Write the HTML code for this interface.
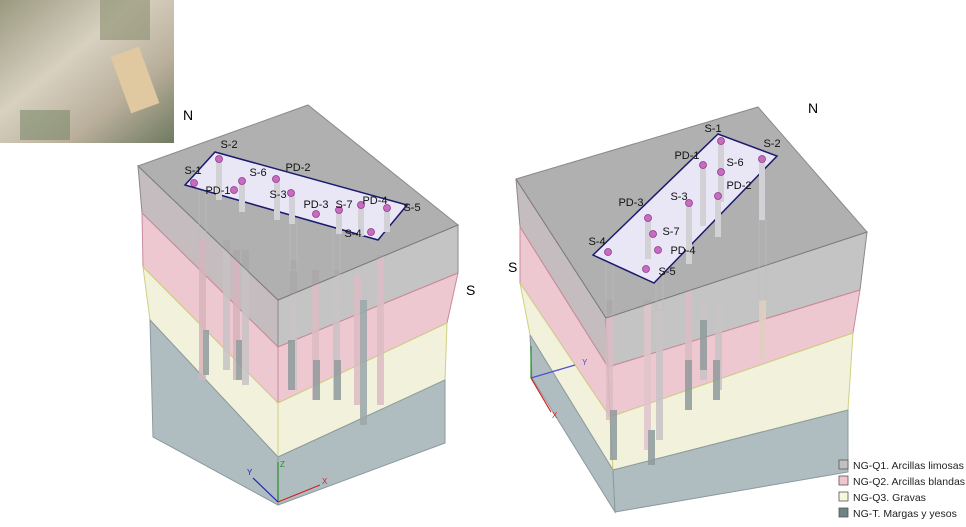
<!DOCTYPE html>
<html><head><meta charset="utf-8"><style>
html,body{margin:0;padding:0;background:#fff;}
svg{display:block;font-family:"Liberation Sans","DejaVu Sans",sans-serif;}
</style></head><body>
<svg width="966" height="527" viewBox="0 0 966 527" xmlns="http://www.w3.org/2000/svg">
<defs>
<linearGradient id="sat" x1="0" y1="0" x2="1" y2="1">
<stop offset="0" stop-color="#9a9a80"/><stop offset="0.4" stop-color="#d8d0c0"/><stop offset="0.7" stop-color="#b8ae9a"/><stop offset="1" stop-color="#6f7a60"/></linearGradient>
</defs>
<rect x="0" y="0" width="174" height="143" fill="url(#sat)"/>
<rect x="120" y="50" width="30" height="60" fill="#e0c9a0" transform="rotate(-20 135 80)"/>
<rect x="20" y="110" width="50" height="30" fill="#7c8a6a" opacity="0.6"/>
<rect x="100" y="0" width="50" height="40" fill="#8a9070" opacity="0.6"/>
<text x="183" y="120" font-size="14">N</text>
<text x="466" y="295" font-size="14">S</text>
<text x="808" y="113" font-size="14">N</text>
<text x="508" y="272" font-size="14">S</text>

<!-- LEFT BLOCK -->
<g stroke-width="1">
<polygon points="138,166 278,300 278,347 142,213" fill="#c4bcbf" stroke="#8a8a8a"/>
<polygon points="142,213 278,347 278,403 143,267" fill="#eec8d1" stroke="#c98a9a"/>
<polygon points="143,267 278,403 278,457 150,320" fill="#f1f1dc" stroke="#d0d080"/>
<polygon points="150,320 278,457 278,505 153,437" fill="#afbdc1" stroke="#8a9a9e"/>
<polygon points="278,300 458,225 458,273 278,347" fill="#c4c4c4" stroke="#8a8a8a"/>
<polygon points="278,347 458,273 447,323 278,403" fill="#eec8d1" stroke="#c98a9a"/>
<polygon points="278,403 447,323 445,380 278,457" fill="#f1f1dc" stroke="#d0d080"/>
<polygon points="278,457 445,380 445,443 278,505" fill="#afbdc1" stroke="#8a9a9e"/>
</g>
<g fill="#c9c3c6" opacity="0.85">
<rect x="199" y="240" width="7" height="140" fill="#d7b3bd"/>
<rect x="223" y="240" width="7" height="130"/>
<rect x="233" y="250" width="7" height="130" fill="#d7b3bd"/>
<rect x="242" y="250" width="7" height="135"/>
<rect x="290" y="260" width="7" height="130"/>
<rect x="312" y="270" width="7" height="130" fill="#dcbcc4"/>
<rect x="333" y="270" width="7" height="130"/>
<rect x="354" y="275" width="7" height="130" fill="#dcbcc4"/>
<rect x="360" y="300" width="7" height="125" fill="#9aa8aa"/>
<rect x="377" y="255" width="7" height="150" fill="#dcbcc4"/>
<rect x="203" y="330" width="6" height="45" fill="#8f9b9c"/>
<rect x="236" y="340" width="6" height="40" fill="#8f9b9c"/>
<rect x="288" y="340" width="7" height="50" fill="#8f9b9c"/>
<rect x="313" y="360" width="7" height="40" fill="#8f9b9c"/>
<rect x="334" y="360" width="7" height="40" fill="#8f9b9c"/>
</g>
<polygon points="138,166 308,105 458,225 278,300" fill="#a6a6a6" stroke="#7a7a7a" opacity="0.88"/>
<g fill="none" stroke="#bdbdbd" opacity="0.6"><rect x="199" y="190" width="7" height="60"/><rect x="290" y="200" width="7" height="70"/><rect x="333" y="215" width="7" height="60"/></g>
<polygon points="185,185 215,152 407,205 378,240" fill="#e9e6f5" stroke="#1a1a6e" stroke-width="1.5"/>
<g fill="#d2d2d6">
<rect x="216" y="160" width="6" height="40"/><rect x="239" y="182" width="6" height="30"/>
<rect x="274" y="180" width="6" height="40"/><rect x="289" y="194" width="6" height="30"/>
<rect x="336" y="212" width="6" height="22"/><rect x="358" y="206" width="6" height="30"/>
<rect x="384" y="210" width="6" height="22"/>
</g>
<g fill="#c86cc0" stroke="#8a3a8a" stroke-width="0.8">
<circle cx="194" cy="183" r="3.5"/><circle cx="219" cy="159" r="3.5"/><circle cx="242" cy="181" r="3.5"/>
<circle cx="234" cy="190" r="3.5"/><circle cx="276" cy="179" r="3.5"/><circle cx="291" cy="193" r="3.5"/>
<circle cx="316" cy="214" r="3.5"/><circle cx="339" cy="210" r="3.5"/><circle cx="361" cy="205" r="3.5"/>
<circle cx="387" cy="208" r="3.5"/><circle cx="371" cy="232" r="3.5"/>
</g>
<g font-size="11" fill="#111" text-anchor="middle">
<text x="193" y="174">S-1</text><text x="229" y="148">S-2</text><text x="258" y="176">S-6</text>
<text x="298" y="171">PD-2</text><text x="218" y="194">PD-1</text><text x="278" y="198">S-3</text>
<text x="316" y="208">PD-3</text><text x="344" y="208">S-7</text><text x="375" y="204">PD-4</text>
<text x="412" y="211">S-5</text><text x="353" y="237">S-4</text>
</g>
<g stroke-width="1.2" fill="none">
<line x1="278" y1="502" x2="278" y2="462" stroke="#2a8a2a"/>
<line x1="278" y1="502" x2="320" y2="485" stroke="#d02020"/>
<line x1="278" y1="502" x2="253" y2="478" stroke="#2020c0"/>
</g>
<text x="322" y="484" font-size="8" fill="#d02020">X</text>
<text x="247" y="475" font-size="8" fill="#2020c0">Y</text>
<text x="280" y="467" font-size="8" fill="#2a8a2a">Z</text>

<!-- RIGHT BLOCK -->
<g stroke-width="1">
<polygon points="516,179 606,318 608,367 520,227" fill="#c4bcbf" stroke="#8a8a8a"/>
<polygon points="520,227 608,367 610,417 520,283" fill="#eec8d1" stroke="#c98a9a"/>
<polygon points="520,283 610,417 613,470 530,335" fill="#f1f1dc" stroke="#d0d080"/>
<polygon points="530,335 613,470 615,512 532,378" fill="#afbdc1" stroke="#8a9a9e"/>
<polygon points="606,318 867,232 860,290 608,367" fill="#c4c4c4" stroke="#8a8a8a"/>
<polygon points="608,367 860,290 853,333 610,417" fill="#eec8d1" stroke="#c98a9a"/>
<polygon points="610,417 853,333 848,410 613,470" fill="#f1f1dc" stroke="#d0d080"/>
<polygon points="613,470 848,410 848,472 615,512" fill="#afbdc1" stroke="#8a9a9e"/>
</g>
<g fill="#c9c3c6" opacity="0.85">
<rect x="606" y="300" width="7" height="120" fill="#dcbcc4"/>
<rect x="644" y="300" width="7" height="150" fill="#e0c4cc"/>
<rect x="656" y="300" width="7" height="140"/>
<rect x="685" y="290" width="7" height="120" fill="#dcbcc4"/>
<rect x="700" y="300" width="7" height="80"/>
<rect x="715" y="300" width="7" height="90"/>
<rect x="759" y="300" width="7" height="60" fill="#e0d0c0"/>
<rect x="610" y="410" width="7" height="50" fill="#8f9b9c"/>
<rect x="648" y="430" width="7" height="35" fill="#8f9b9c"/>
<rect x="685" y="360" width="7" height="50" fill="#8f9b9c"/>
<rect x="700" y="320" width="7" height="50" fill="#8f9b9c"/>
<rect x="713" y="360" width="7" height="40" fill="#8f9b9c"/>
</g>
<polygon points="516,179 758,107 867,232 606,318" fill="#a6a6a6" stroke="#7a7a7a" opacity="0.88"/>
<g fill="none" stroke="#bdbdbd" opacity="0.6"><rect x="606" y="255" width="7" height="60"/><rect x="656" y="260" width="7" height="50"/><rect x="759" y="220" width="7" height="80"/></g>
<polygon points="593,255 718,134 777,156 654,283" fill="#e9e6f5" stroke="#1a1a6e" stroke-width="1.5"/>
<g fill="#d2d2d6">
<rect x="718" y="142" width="6" height="60"/><rect x="700" y="166" width="6" height="60"/>
<rect x="686" y="204" width="6" height="60"/><rect x="645" y="219" width="6" height="40"/>
<rect x="759" y="160" width="6" height="60"/><rect x="715" y="197" width="6" height="40"/>
</g>
<g fill="#c86cc0" stroke="#8a3a8a" stroke-width="0.8">
<circle cx="721" cy="141" r="3.5"/><circle cx="762" cy="159" r="3.5"/><circle cx="703" cy="165" r="3.5"/>
<circle cx="721" cy="172" r="3.5"/><circle cx="718" cy="196" r="3.5"/><circle cx="689" cy="203" r="3.5"/>
<circle cx="648" cy="218" r="3.5"/><circle cx="653" cy="234" r="3.5"/><circle cx="658" cy="250" r="3.5"/>
<circle cx="608" cy="252" r="3.5"/><circle cx="646" cy="269" r="3.5"/>
</g>
<g font-size="11" fill="#111" text-anchor="middle">
<text x="713" y="132">S-1</text><text x="772" y="147">S-2</text><text x="687" y="159">PD-1</text>
<text x="735" y="166">S-6</text><text x="739" y="189">PD-2</text><text x="679" y="200">S-3</text>
<text x="631" y="206">PD-3</text><text x="671" y="235">S-7</text><text x="597" y="245">S-4</text>
<text x="683" y="254">PD-4</text><text x="667" y="275">S-5</text>
</g>
<g stroke-width="1.2" fill="none">
<line x1="531" y1="378" x2="531" y2="346" stroke="#2a8a2a"/>
<line x1="531" y1="378" x2="575" y2="365" stroke="#5050d0"/>
<line x1="531" y1="378" x2="551" y2="412" stroke="#d02020"/>
</g>
<text x="582" y="365" font-size="8" fill="#5050d0">Y</text>
<text x="552" y="418" font-size="8" fill="#d02020">X</text>

<g font-size="10.5" fill="#222" stroke="#555" stroke-width="0.8">
<rect x="839" y="460" width="9" height="9" fill="#c0c0c0"/>
<rect x="839" y="476" width="9" height="9" fill="#f2c6cf"/>
<rect x="839" y="492" width="9" height="9" fill="#f7f7dc"/>
<rect x="839" y="508" width="9" height="9" fill="#6f8285"/>
</g>
<g font-size="10.5" fill="#222">
<text x="853" y="469">NG-Q1. Arcillas limosas</text>
<text x="853" y="485">NG-Q2. Arcillas blandas</text>
<text x="853" y="501">NG-Q3. Gravas</text>
<text x="853" y="517">NG-T. Margas y yesos</text>
</g>
</svg>
</body></html>
